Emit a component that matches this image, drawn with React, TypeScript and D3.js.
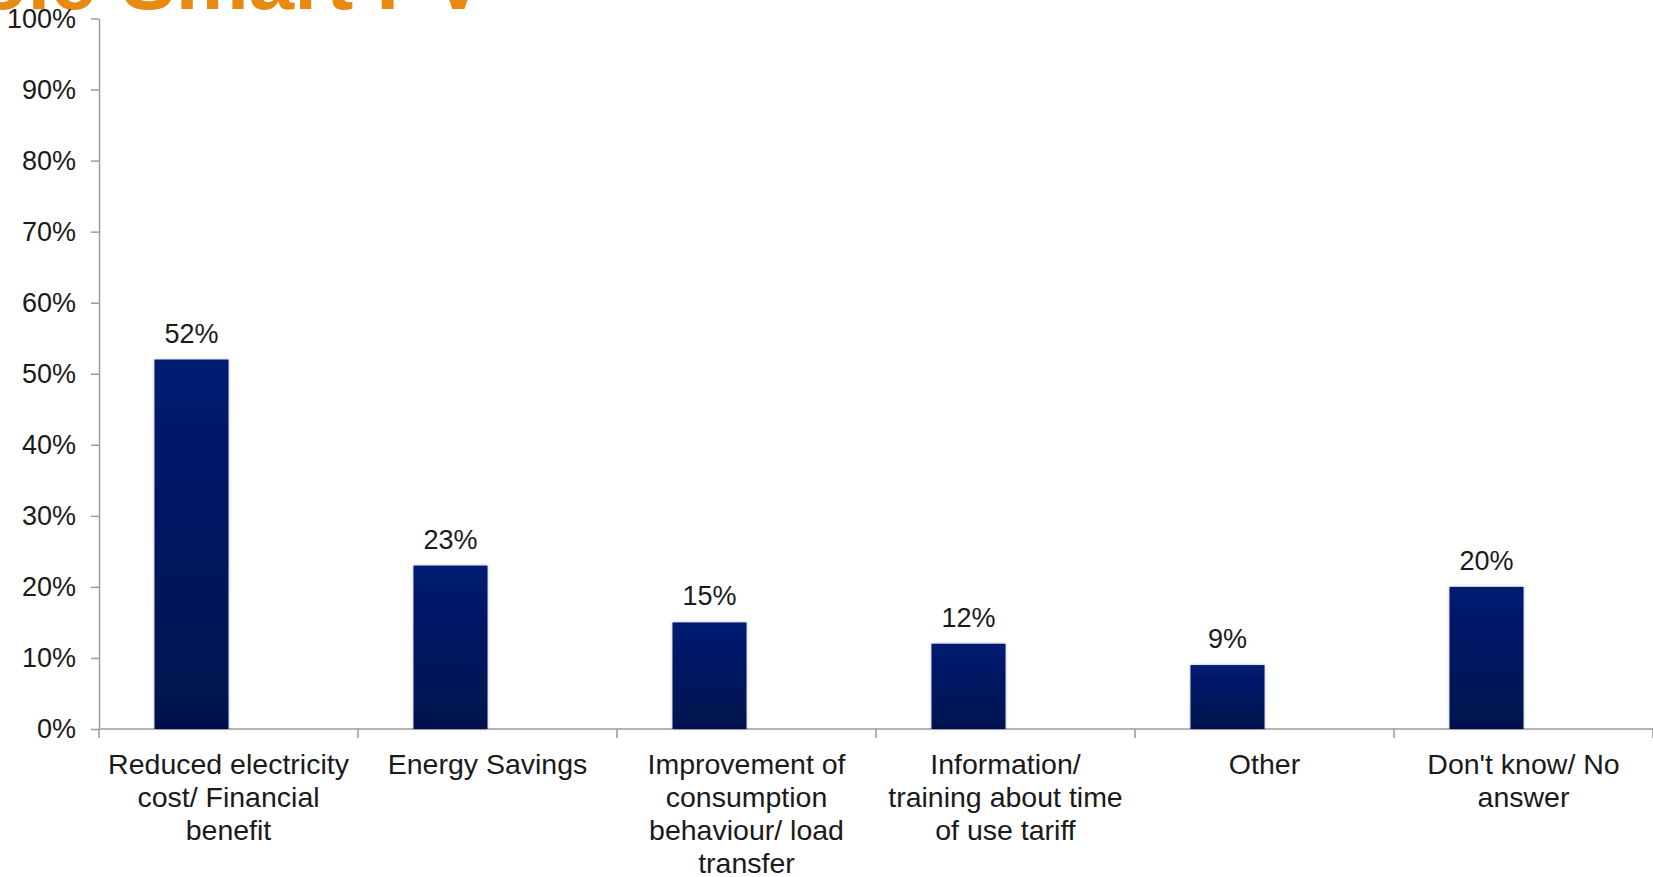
import * as d3 from "d3";
import { useEffect, useRef } from "react";

const categories = [
  "Reduced electricity cost/ Financial benefit",
  "Energy Savings",
  "Improvement of consumption behaviour/ load transfer",
  "Information/ training about time of use tariff",
  "Other",
  "Don't know/ No answer",
];
// how the category labels break into lines, as on the slide
const categoryLines = [
  ["Reduced electricity", "cost/ Financial", "benefit"],
  ["Energy Savings"],
  ["Improvement of", "consumption", "behaviour/ load", "transfer"],
  ["Information/", "training about time", "of use tariff"],
  ["Other"],
  ["Don't know/ No", "answer"],
];
const values = [52, 23, 15, 12, 9, 20];
const yTicks = [0, 10, 20, 30, 40, 50, 60, 70, 80, 90, 100];
const titleLeft = "Role";
const titleRight = "Smart PV";

const FONT = "'Liberation Sans', Arial, sans-serif";

export default function App() {
  const svgRef = useRef<SVGSVGElement>(null);

  useEffect(() => {
    render();
  }, []);

  const render = () => {
    const width = 1653;
    const height = 877;
    const margin = { left: 99, right: 0, top: 18.5, bottom: 148 };

    const svg = d3.select(svgRef.current);
    svg.selectAll("*").remove();
    svg.attr("width", width).attr("height", height);

    const defs = svg.append("defs");
    const grad = defs
      .append("linearGradient")
      .attr("id", "barGrad")
      .attr("x1", 0)
      .attr("y1", 0)
      .attr("x2", 0)
      .attr("y2", 1);
    grad.append("stop").attr("offset", "0%").attr("stop-color", "#021b72");
    grad.append("stop").attr("offset", "100%").attr("stop-color", "#03114d");
    const shadow = defs
      .append("filter")
      .attr("id", "barShadow")
      .attr("x", "-20%")
      .attr("y", "-5%")
      .attr("width", "140%")
      .attr("height", "110%");
    shadow
      .append("feDropShadow")
      .attr("dx", 0)
      .attr("dy", 0)
      .attr("stdDeviation", 1.5)
      .attr("flood-color", "#000")
      .attr("flood-opacity", 0.3);

    // title, cut off at the top of the slide
    svg
      .append("text")
      .attr("x", 96)
      .attr("y", 9)
      .attr("text-anchor", "end")
      .attr("font-family", FONT)
      .attr("font-weight", "bold")
      .attr("font-size", 82)
      .attr("fill", "#e88a12")
      .text(titleLeft);
    svg
      .append("text")
      .attr("x", 121)
      .attr("y", 9)
      .attr("font-family", FONT)
      .attr("font-weight", "bold")
      .attr("font-size", 82)
      .attr("fill", "#e88a12")
      .text(titleRight);

    const x = d3
      .scaleBand<string>()
      .domain(categories)
      .range([margin.left, width - margin.right])
      .padding(0);
    // two slots per category, the second one is empty (as in the original)
    const xs = d3
      .scaleBand<string>()
      .domain(["value", "empty"])
      .range([0, x.bandwidth()])
      .paddingInner(0)
      .paddingOuter(0.75);
    const y = d3
      .scaleLinear()
      .domain([0, 100])
      .range([height - margin.bottom, margin.top]);

    const g = svg.append("g");

    // y axis
    const yAxis = g
      .append("g")
      .attr("transform", `translate(${margin.left},0)`)
      .call(
        d3
          .axisLeft(y)
          .tickValues(yTicks)
          .tickFormat((d) => `${d}%`)
          .tickSize(8)
          .tickSizeOuter(0)
          .tickPadding(15)
      );
    yAxis.select(".domain").attr("stroke", "#9a9a9a").attr("stroke-width", 1.5);
    yAxis.selectAll(".tick line").attr("stroke", "#9a9a9a").attr("stroke-width", 1.5);
    yAxis
      .selectAll(".tick text")
      .attr("font-family", FONT)
      .attr("font-size", 27)
      .attr("fill", "#1a1a1a");

    // x axis: line plus ticks at the category boundaries
    const y0 = y(0);
    g.append("line")
      .attr("x1", margin.left)
      .attr("x2", width - margin.right)
      .attr("y1", y0)
      .attr("y2", y0)
      .attr("stroke", "#9a9a9a")
      .attr("stroke-width", 1.5);
    const bounds = categories.map((c) => x(c) as number).concat([x.range()[1]]);
    g.selectAll(".xtick")
      .data(bounds)
      .join("line")
      .attr("class", "xtick")
      .attr("x1", (d) => d)
      .attr("x2", (d) => d)
      .attr("y1", y0)
      .attr("y2", y0 + 9)
      .attr("stroke", "#9a9a9a")
      .attr("stroke-width", 1.5);

    // bars
    g.selectAll(".bar")
      .data(values)
      .join("rect")
      .attr("class", "bar")
      .attr("x", (d, i) => (x(categories[i]) as number) + (xs("value") as number))
      .attr("y", (d) => y(d))
      .attr("width", xs.bandwidth())
      .attr("height", (d) => y(0) - y(d))
      .attr("fill", "url(#barGrad)")
      .attr("filter", "url(#barShadow)");

    // value labels
    g.selectAll(".val")
      .data(values)
      .join("text")
      .attr("class", "val")
      .attr(
        "x",
        (d, i) =>
          (x(categories[i]) as number) + (xs("value") as number) + xs.bandwidth() / 2
      )
      .attr("y", (d) => y(d) - 17)
      .attr("text-anchor", "middle")
      .attr("font-family", FONT)
      .attr("font-size", 27)
      .attr("fill", "#1a1a1a")
      .text((d) => `${d}%`);

    // category labels
    const labels = g
      .selectAll(".cat")
      .data(categories)
      .join("text")
      .attr("class", "cat")
      .attr("text-anchor", "middle")
      .attr("font-family", FONT)
      .attr("font-size", 28.5)
      .attr("fill", "#1a1a1a");
    labels
      .selectAll("tspan")
      .data((d, i) => categoryLines[i].map((line) => ({ line, c: d })))
      .join("tspan")
      .attr("x", (d) => (x(d.c) as number) + x.bandwidth() / 2)
      .attr("y", (d, j) => y0 + 45 + j * 33)
      .text((d) => d.line);
  };

  return (
    <svg
      ref={svgRef}
      style={{ position: "absolute", left: 0, top: 0, background: "#fff" }}
    ></svg>
  );
}
